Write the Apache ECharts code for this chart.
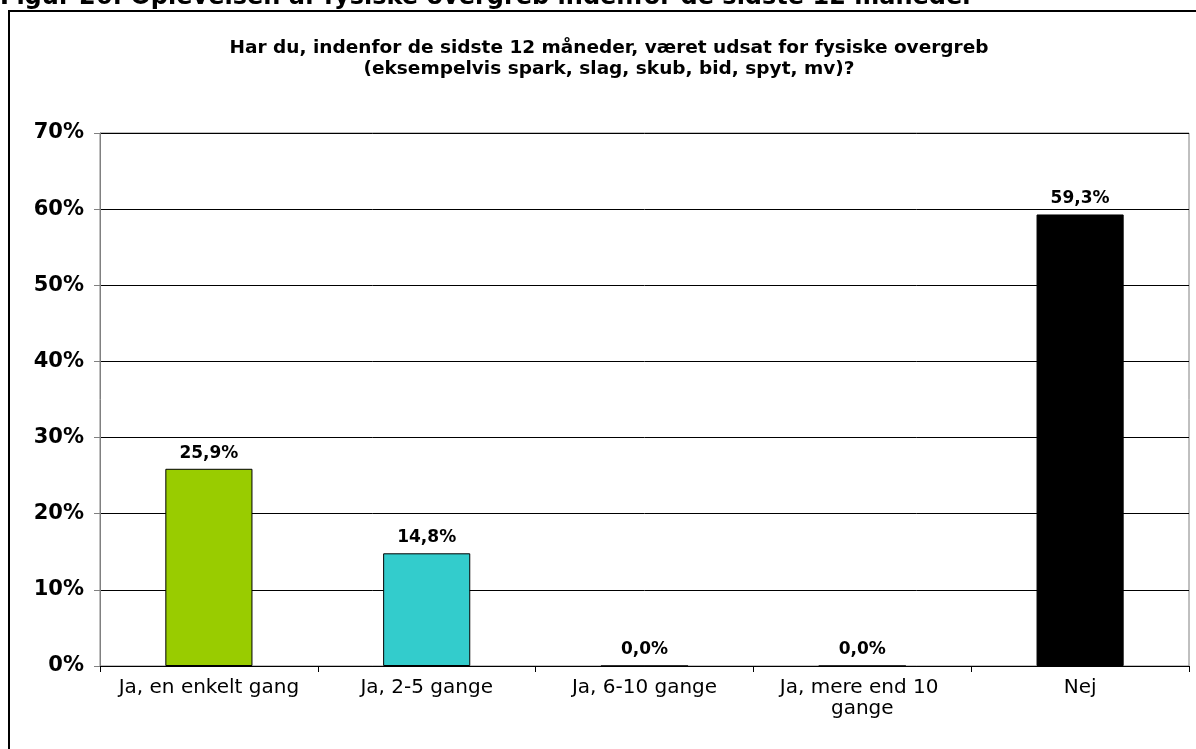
<!DOCTYPE html>
<html>
<head>
<meta charset="utf-8">
<script src="https://cdn.jsdelivr.net/npm/echarts@6/dist/echarts.min.js"></script>
<style>
html,body{margin:0;padding:0;background:#fff;}
#chart{width:1196px;height:749px;}
</style>
</head>
<body>
<div id="chart"></div>
<script>
const categories = ['Ja, en enkelt gang', 'Ja, 2-5 gange', 'Ja, 6-10 gange', 'Ja, mere end 10 gange', 'Nej'];
const values = [25.9, 14.8, 0.0, 0.0, 59.3];
const barColors = ['#99CC00', '#33CCCC', '#9999FF', '#993366', '#000000'];
const captionText = 'Figur 26: Oplevelsen af fysiske overgreb indenfor de sidste 12 måneder';
const titleText = 'Har du, indenfor de sidste 12 måneder, været udsat for fysiske overgreb\n(eksempelvis spark, slag, skub, bid, spyt, mv)?';

const FONT = '"DejaVu Sans", Verdana, sans-serif';
const chart = echarts.init(document.getElementById('chart'));
chart.setOption({
  backgroundColor: '#fff',
  animation: false,
  title: {
    text: titleText,
    left: 604,
    textAlign: 'center',
    top: 33,
    textStyle: { fontFamily: FONT, fontWeight: 'bold', fontSize: 18.5, color: '#000', lineHeight: 21 }
  },
  graphic: [
    { type: 'text', x: 0, y: -2, style: { text: captionText, font: 'bold 24px ' + FONT, fill: '#000', verticalAlign: 'middle' }, silent: true },
    { type: 'rect', shape: { x: 9, y: 11, width: 1200, height: 760 }, style: { fill: 'none', stroke: '#000', lineWidth: 2 }, silent: true }
  ],
  grid: { left: 100, right: 7, top: 133, bottom: 83, show: true, borderColor: '#808080', borderWidth: 1 },
  xAxis: {
    type: 'category',
    data: categories,
    axisLine: { lineStyle: { color: '#000', width: 1 } },
    axisTick: { show: true, alignWithLabel: false, length: 6, lineStyle: { color: '#000' } },
    axisLabel: { interval: 0, margin: 11, color: '#000', fontFamily: FONT, fontSize: 20, lineHeight: 21, width: 205, overflow: 'break' },
    splitLine: { show: false }
  },
  yAxis: {
    type: 'value',
    min: 0, max: 70, interval: 10,
    axisLine: { show: true, lineStyle: { color: '#808080', width: 1 } },
    axisTick: { show: true, length: 6, lineStyle: { color: '#808080' } },
    axisLabel: { margin: 16, color: '#000', fontFamily: FONT, fontWeight: 'bold', fontSize: 21, formatter: v => v + '%' },
    splitLine: { show: true, lineStyle: { color: '#000', width: 1 } }
  },
  series: [{
    type: 'bar',
    data: values.map((v, i) => ({ value: v, itemStyle: { color: barColors[i] } })),
    barWidth: '40%',
    itemStyle: { borderColor: '#000', borderWidth: 1 },
    label: {
      show: true, position: 'top', distance: 7,
      color: '#000', fontFamily: FONT, fontWeight: 'bold', fontSize: 17,
      formatter: p => p.value.toFixed(1).replace('.', ',') + '%'
    }
  }]
});
</script>
</body>
</html>
